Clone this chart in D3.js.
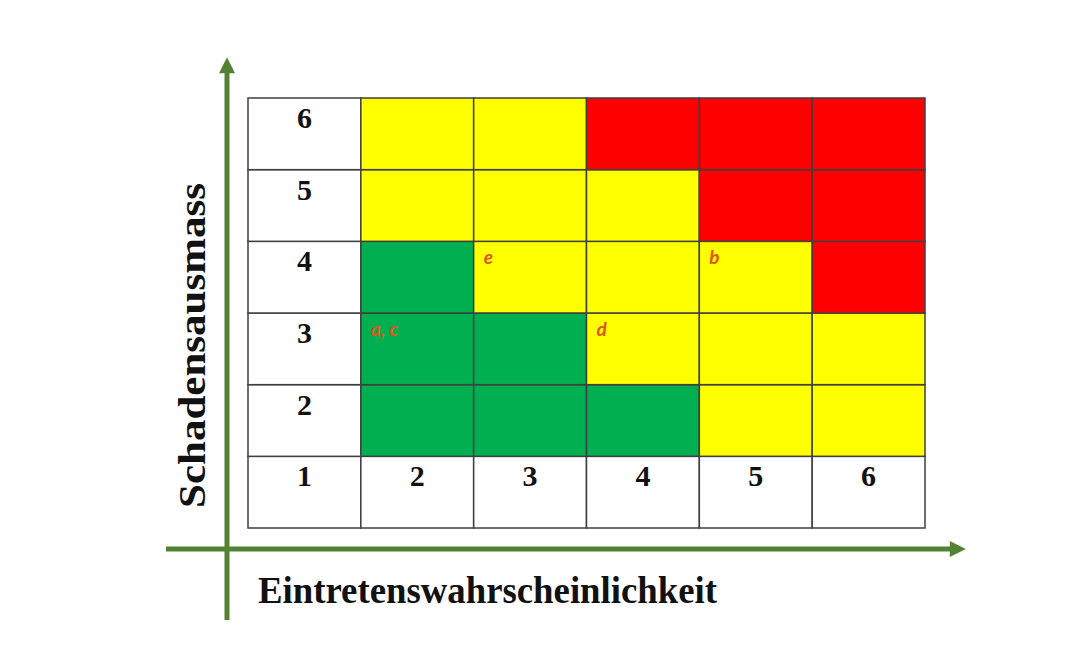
<!DOCTYPE html>
<html><head><meta charset="utf-8">
<script src="https://cdn.jsdelivr.net/npm/d3@7"></script>
<style>body{margin:0;background:#fff}svg{display:block}</style>
</head><body>
<svg id="c" width="1070" height="648"></svg>
<script>
const likelihood = [1, 2, 3, 4, 5, 6];   // x axis categories
const severity = [1, 2, 3, 4, 5, 6];     // y axis categories
// risk class per (severity row, likelihood column 2..6): G=green, Y=yellow, R=red
const riskRows = [
  {s: 6, cls: ["Y","Y","R","R","R"]},
  {s: 5, cls: ["Y","Y","Y","R","R"]},
  {s: 4, cls: ["G","Y","Y","Y","R"]},
  {s: 3, cls: ["G","G","Y","Y","Y"]},
  {s: 2, cls: ["G","G","G","Y","Y"]}
];
const markers = [
  {label: "a, c", l: 2, s: 3},
  {label: "e", l: 3, s: 4},
  {label: "d", l: 4, s: 3},
  {label: "b", l: 5, s: 4}
];
const xTitle = "Eintretenswahrscheinlichkeit";
const yTitle = "Schadensausmass";

const colors = {G: "#00B050", Y: "#FFFF00", R: "#FF0000"};
const svg = d3.select("#c");
const x = d3.scaleBand().domain(likelihood).range([248, 925]);
const y = d3.scaleBand().domain(severity).range([528, 98]);

const cells = [];
likelihood.forEach(l => severity.forEach(s => {
  let fill = "#fff";
  if (l > 1 && s > 1) {
    const r = riskRows.find(d => d.s === s);
    fill = colors[r.cls[l - 2]];
  }
  cells.push({l, s, fill});
}));

svg.append("g").selectAll("rect").data(cells).join("rect")
  .attr("x", d => x(d.l)).attr("y", d => y(d.s))
  .attr("width", x.bandwidth()).attr("height", y.bandwidth())
  .attr("fill", d => d.fill)
  .attr("stroke", "#3f3f3f").attr("stroke-width", 1.5);

const font = "'Liberation Serif', 'DejaVu Serif', serif";
// row labels (first column)
svg.append("g").selectAll("text").data(severity.filter(s => s > 1)).join("text")
  .attr("x", x(1) + x.bandwidth() / 2).attr("y", d => y(d) + 30)
  .attr("text-anchor", "middle").attr("font-family", font).attr("font-weight", "bold")
  .attr("font-size", 30).attr("fill", "#111").text(d => d);
// column labels (bottom row)
svg.append("g").selectAll("text").data(likelihood).join("text")
  .attr("x", d => x(d) + x.bandwidth() / 2).attr("y", y(1) + 30)
  .attr("text-anchor", "middle").attr("font-family", font).attr("font-weight", "bold")
  .attr("font-size", 30).attr("fill", "#111").text(d => d);

// markers
svg.append("g").selectAll("text").data(markers).join("text")
  .attr("x", d => x(d.l) + 10).attr("y", d => y(d.s) + 23)
  .attr("font-family", "Lato, 'Open Sans', sans-serif").attr("font-weight", "bold").attr("font-style", "italic")
  .attr("font-size", 19).attr("fill", "#E0561A").text(d => d.label);

// axes arrows
const green = "#548235";
const defs = svg.append("defs");
defs.append("marker").attr("id", "ah").attr("viewBox", "0 0 10 10")
  .attr("refX", 2).attr("refY", 5).attr("markerWidth", 3.4).attr("markerHeight", 3.2)
  .attr("orient", "auto").attr("markerUnits", "strokeWidth")
  .append("path").attr("d", "M0,0 L10,5 L0,10 Z").attr("fill", green);

svg.append("line").attr("x1", 227).attr("y1", 620).attr("x2", 227).attr("y2", 70)
  .attr("stroke", green).attr("stroke-width", 5).attr("marker-end", "url(#ah)");
svg.append("line").attr("x1", 166).attr("y1", 549).attr("x2", 953).attr("y2", 549)
  .attr("stroke", green).attr("stroke-width", 5).attr("marker-end", "url(#ah)");

// titles
svg.append("text").attr("x", 258).attr("y", 603)
  .attr("font-family", font).attr("font-weight", "bold").attr("font-size", 38)
  .attr("fill", "#111").attr("textLength", 459).attr("lengthAdjust", "spacingAndGlyphs")
  .text(xTitle);
svg.append("text").attr("transform", "translate(205,508) rotate(-90)")
  .attr("font-family", font).attr("font-weight", "bold").attr("font-size", 38)
  .attr("fill", "#111").attr("textLength", 325).attr("lengthAdjust", "spacingAndGlyphs")
  .text(yTitle);
</script>
</body></html>
